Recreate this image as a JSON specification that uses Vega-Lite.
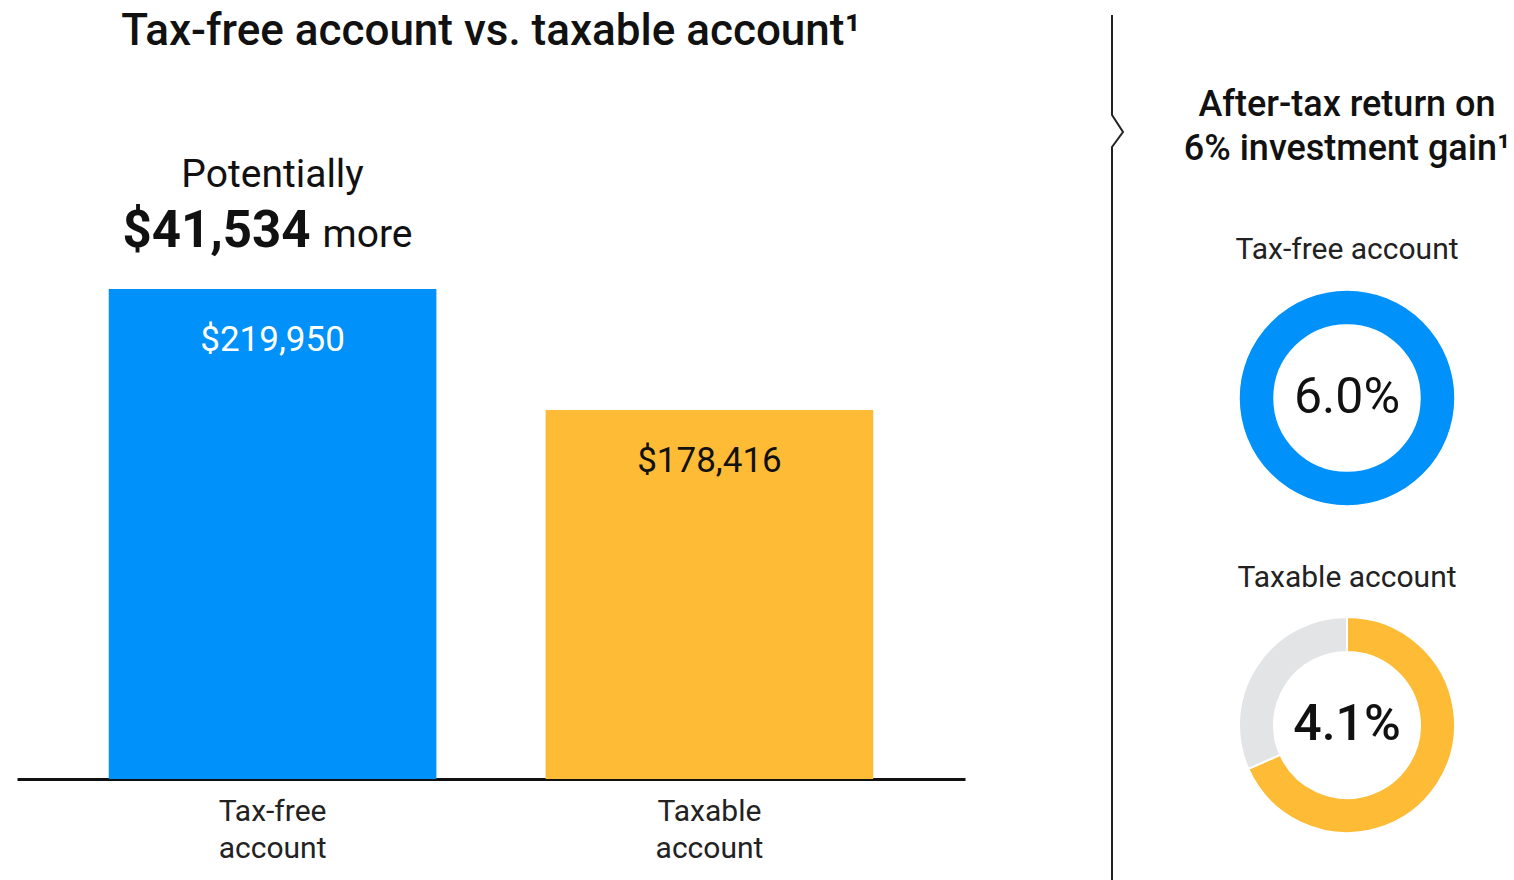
{
  "$schema": "https://vega.github.io/schema/vega-lite/v6.json",
  "background": "white",
  "padding": {"left": 17, "top": 10, "right": 0, "bottom": 0},
  "config": {"view": {"stroke": null}, "font": "Roboto"},
  "spacing": 20,
  "resolve": {"scale": {"color": "independent"}},
  "hconcat": [
    {
      "width": 948,
      "height": 715,
      "title": {"text": "Tax-free account vs. taxable account¹", "fontSize": 44, "fontWeight": 500, "font": "Roboto", "color": "#111111", "anchor": "middle", "offset": 10},
      "encoding": {
        "x": {
          "field": "account", "type": "nominal", "sort": null,
          "scale": {"domain": ["Tax-free account", "Taxable account"], "paddingInner": 0.25, "paddingOuter": 0.21},
          "axis": {"title": null, "labelAngle": 0, "labelFontSize": 30, "labelFont": "Roboto", "labelColor": "#222222", "labelExpr": "split(datum.label, ' ')", "labelLineHeight": 37, "labelPadding": 17, "ticks": false, "grid": false, "domainColor": "#111111", "domainWidth": 3}
        }
      },
      "layer": [
        {
          "data": {"values": [
            {"account": "Tax-free account", "amount": 219950, "label": "$219,950"},
            {"account": "Taxable account", "amount": 178416, "label": "$178,416"}
          ]},
          "layer": [
            {
              "mark": {"type": "bar", "clip": true},
              "encoding": {
                "y": {"field": "amount", "type": "quantitative", "scale": {"domain": [51800, 297159], "zero": false, "nice": false}, "axis": null},
                "color": {"field": "account", "type": "nominal", "scale": {"domain": ["Tax-free account", "Taxable account", "Taxes"], "range": ["#0091FA", "#FDBB36", "#E3E4E6"]}, "legend": null}
              }
            },
            {
              "mark": {"type": "text", "dy": 51, "fontSize": 35, "baseline": "middle", "align": "center"},
              "encoding": {
                "y": {"field": "amount", "type": "quantitative"},
                "text": {"field": "label"},
                "color": {"condition": {"test": "datum.account === 'Tax-free account'", "value": "white"}, "value": "#111111"},
                "fontWeight": {"condition": {"test": "datum.account === 'Tax-free account'", "value": 400}, "value": 500}
              }
            }
          ]
        },
        {
          "data": {"values": [
            {"account": "Tax-free account", "amount": 219950, "t1": "Potentially", "t2": "$41,534", "t3": "more"}
          ]},
          "layer": [
            {
              "mark": {"type": "text", "dy": -114, "fontSize": 39, "fontWeight": 400, "baseline": "middle", "align": "center", "color": "#111111"},
              "encoding": {"y": {"field": "amount", "type": "quantitative"}, "text": {"field": "t1"}}
            },
            {
              "mark": {"type": "text", "dy": -42, "dx": 38, "fontSize": 51, "fontWeight": 700, "baseline": "alphabetic", "align": "right", "color": "#111111"},
              "encoding": {"y": {"field": "amount", "type": "quantitative"}, "text": {"field": "t2"}}
            },
            {
              "mark": {"type": "text", "dy": -42, "dx": 50, "fontSize": 39, "fontWeight": 400, "baseline": "alphabetic", "align": "left", "color": "#111111"},
              "encoding": {"y": {"field": "amount", "type": "quantitative"}, "text": {"field": "t3"}}
            }
          ]
        }
      ]
    },
    {
      "width": 177,
      "height": 816,
      "data": {"values": [
        {"o": 1, "x": 0, "y": 0},
        {"o": 2, "x": 0, "y": 100},
        {"o": 3, "x": 1, "y": 117},
        {"o": 4, "x": 0, "y": 132},
        {"o": 5, "x": 0, "y": 865}
      ]},
      "mark": {"type": "line", "color": "#222222", "strokeWidth": 2},
      "encoding": {
        "x": {"field": "x", "type": "quantitative", "scale": {"domain": [-11.545, 4.545], "nice": false, "zero": false}, "axis": null},
        "y": {"field": "y", "type": "quantitative", "scale": {"domain": [49, 865], "reverse": true, "nice": false, "zero": false}, "axis": null},
        "order": {"field": "o"}
      }
    },
    {
      "spacing": 45,
      "vconcat": [
        {
          "width": 330,
          "height": 126,
          "data": {"values": [
            {"line": 1, "text": "After-tax return on"},
            {"line": 2, "text": "6% investment gain¹"}
          ]},
          "mark": {"type": "text", "fontSize": 36, "fontWeight": 500, "color": "#111111", "baseline": "middle", "align": "center", "font": "Roboto"},
          "encoding": {
            "y": {"field": "line", "type": "ordinal", "scale": {"type": "point", "padding": 0.932}, "axis": null},
            "text": {"field": "text"}
          }
        },
        {
          "width": 330,
          "height": 240,
          "title": {"text": "Tax-free account", "fontSize": 30, "fontWeight": 400, "color": "#222222", "font": "Roboto", "offset": 13, "anchor": "middle"},
          "data": {"values": [
            {"o": 1, "segment": "Tax-free account", "value": 6.0, "label": "6.0%"}
          ]},
          "layer": [
            {
              "mark": {"type": "arc", "outerRadius": 108, "innerRadius": 73, "stroke": "white", "strokeWidth": 1.5},
              "encoding": {
                "theta": {"field": "value", "type": "quantitative", "stack": true},
                "order": {"field": "o"},
                "color": {"field": "segment", "type": "nominal", "scale": {"domain": ["Tax-free account", "Taxable account", "Taxes"], "range": ["#0091FA", "#FDBB36", "#E3E4E6"]}, "legend": null}
              }
            },
            {
              "mark": {"type": "text", "fontSize": 50, "fontWeight": 400, "color": "#111111", "baseline": "middle", "align": "center"},
              "encoding": {"text": {"field": "label"}}
            }
          ]
        },
        {
          "width": 330,
          "height": 240,
          "title": {"text": "Taxable account", "fontSize": 30, "fontWeight": 400, "color": "#222222", "font": "Roboto", "offset": 12, "anchor": "middle"},
          "data": {"values": [
            {"o": 1, "segment": "Taxable account", "value": 4.1, "label": "4.1%"},
            {"o": 2, "segment": "Taxes", "value": 1.9, "label": ""}
          ]},
          "layer": [
            {
              "mark": {"type": "arc", "outerRadius": 108, "innerRadius": 73, "stroke": "white", "strokeWidth": 2},
              "encoding": {
                "theta": {"field": "value", "type": "quantitative", "stack": true},
                "order": {"field": "o"},
                "color": {"field": "segment", "type": "nominal", "scale": {"domain": ["Tax-free account", "Taxable account", "Taxes"], "range": ["#0091FA", "#FDBB36", "#E3E4E6"]}, "legend": null}
              }
            },
            {
              "transform": [{"filter": "datum.label != ''"}],
              "mark": {"type": "text", "fontSize": 50, "fontWeight": 500, "color": "#111111", "baseline": "middle", "align": "center"},
              "encoding": {"text": {"field": "label"}}
            }
          ]
        }
      ]
    }
  ]
}
